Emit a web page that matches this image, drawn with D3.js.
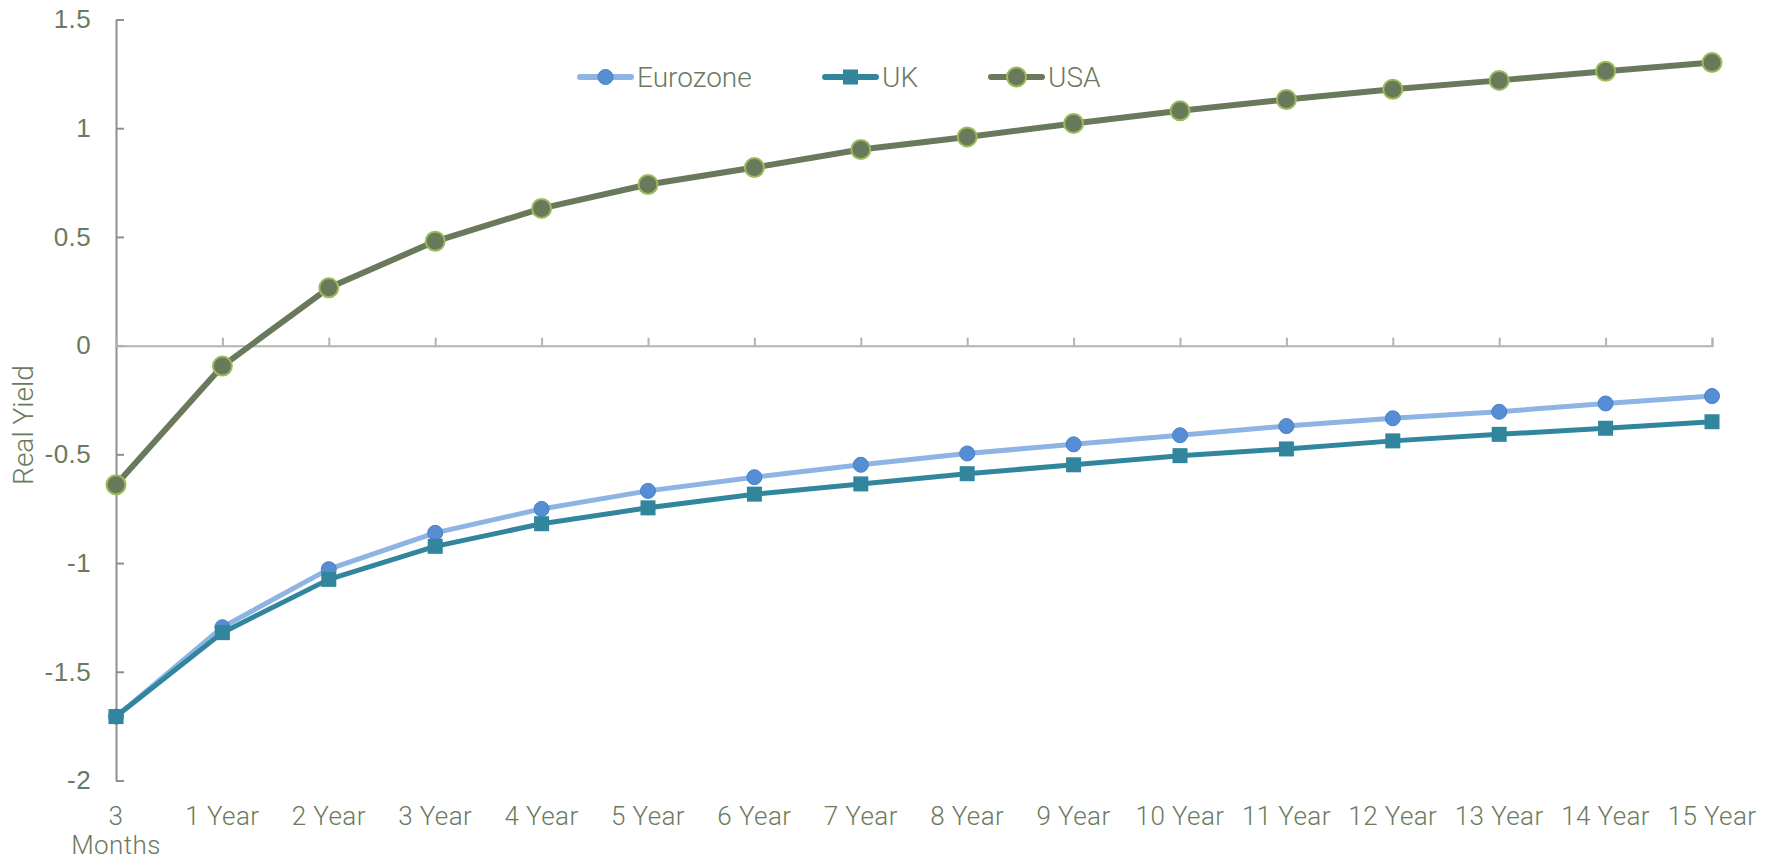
<!DOCTYPE html>
<html>
<head>
<meta charset="utf-8">
<script src="https://cdn.jsdelivr.net/npm/d3@7"></script>
<style>
  body { margin: 0; background: #fff; }
  svg { display: block; font-family: Roboto, "Liberation Sans", sans-serif; font-weight: 300; }
</style>
</head>
<body>
<div class="chart"></div>
<script>
const categories = ['3 Months','1 Year','2 Year','3 Year','4 Year','5 Year','6 Year','7 Year',
                    '8 Year','9 Year','10 Year','11 Year','12 Year','13 Year','14 Year','15 Year'];
const eurozone = [-1.706,-1.295,-1.028,-0.861,-0.751,-0.668,-0.605,-0.548,-0.496,-0.454,-0.412,-0.37,-0.334,-0.304,-0.266,-0.232];
const uk       = [-1.706,-1.32,-1.075,-0.923,-0.819,-0.746,-0.683,-0.636,-0.589,-0.548,-0.506,-0.475,-0.438,-0.408,-0.38,-0.35];
const usa      = [-0.64,-0.094,0.266,0.48,0.631,0.741,0.819,0.902,0.96,1.022,1.08,1.132,1.179,1.22,1.262,1.302];
const yTicks = [1.5,1,0.5,0,-0.5,-1,-1.5,-2];

var W = 1777, H = 861;
var textCol = '#6b7a5e';

var svg = d3.select('.chart').append('svg').attr('width',W).attr('height',H);

var x = d3.scalePoint().domain(categories).range([116,1712]).padding(0);
var y = d3.scaleLinear().domain([-2,1.5]).range([780.5,19.5]);

// y axis, ticks point inward
var yAxis = svg.append('g').attr('transform','translate(116,0)')
    .call(d3.axisLeft(y).tickValues(yTicks).tickSizeInner(-8).tickSizeOuter(0).tickPadding(25));
yAxis.select('.domain').attr('stroke','#8f8f8f').attr('stroke-width',2);
yAxis.selectAll('.tick line').attr('stroke','#8f8f8f').attr('stroke-width',2);
yAxis.selectAll('.tick text').attr('fill',textCol).style('font-size','26px').style('letter-spacing','0.4px')
    .text(d => d < 0 ? '-' + Math.abs(d) : d);

// x axis line sits on zero
var xAxis = svg.append('g').attr('transform','translate(0,' + y(0) + ')')
    .call(d3.axisBottom(x).tickSizeInner(-8).tickSizeOuter(-8).tickFormat(''));
xAxis.select('.domain').attr('stroke','#b3b3b3').attr('stroke-width',2);
xAxis.selectAll('.tick line').attr('stroke','#b3b3b3').attr('stroke-width',2);

// category labels down at the bottom
var labels = svg.append('g').selectAll('text').data(categories).join('text')
    .attr('x', d => x(d)).attr('y', 825)
    .attr('text-anchor','middle').attr('fill',textCol)
    .style('font-size','26px').style('letter-spacing','0.4px');
labels.each(function(d) {
  var t = d3.select(this);
  if (d === '3 Months') {
    t.append('tspan').attr('x', x(d)).text('3');
    t.append('tspan').attr('x', x(d)).attr('dy', 29).text('Months');
  } else t.text(d);
});

svg.append('text')
    .attr('transform','translate(33,425) rotate(-90)')
    .attr('text-anchor','middle').attr('fill',textCol).style('font-size','28px')
    .text('Real Yield');

var line = d3.line().x((d,i) => x(categories[i])).y(d => y(d));

var series = [
  {name:'Eurozone', values:eurozone, stroke:'#8db4e3', width:5, marker:'circle', r:7.5, fill:'#558ed5', mstroke:'#4a7fc4', mw:1},
  {name:'UK', values:uk, stroke:'#31859c', width:5, marker:'square', r:7.5, fill:'#31859c', mstroke:'#31859c', mw:0},
  {name:'USA', values:usa, stroke:'#69795c', width:6, marker:'circle', r:9.5, fill:'#69795c', mstroke:'#9bbb59', mw:2}
];

function drawMarker(g, s, cx, cy) {
  if (s.marker === 'circle') {
    g.append('circle').attr('cx',cx).attr('cy',cy).attr('r',s.r)
      .attr('fill',s.fill).attr('stroke',s.mstroke).attr('stroke-width',s.mw);
  } else {
    g.append('rect').attr('x',cx - s.r).attr('y',cy - s.r)
      .attr('width',s.r*2).attr('height',s.r*2).attr('fill',s.fill);
  }
}

series.forEach(function(s) {
  var g = svg.append('g');
  g.append('path').datum(s.values).attr('d',line)
    .attr('fill','none').attr('stroke',s.stroke).attr('stroke-width',s.width)
    .attr('stroke-linejoin','round');
  s.values.forEach(function(v,i) { drawMarker(g, s, x(categories[i]), y(v)); });
});

// legend
var legendX = [577, 822, 988];
series.forEach(function(s,i) {
  var g = svg.append('g');
  var x0 = legendX[i], ly = 77;
  g.append('line').attr('x1',x0+3).attr('x2',x0+54).attr('y1',ly).attr('y2',ly)
    .attr('stroke',s.stroke).attr('stroke-width',6).attr('stroke-linecap','round');
  drawMarker(g, s, x0+28.5, ly);
  g.append('text').attr('x',x0+60).attr('y',ly).attr('dy','0.36em')
    .attr('fill',textCol).style('font-size','28px').text(s.name);
});
</script>
</body>
</html>
